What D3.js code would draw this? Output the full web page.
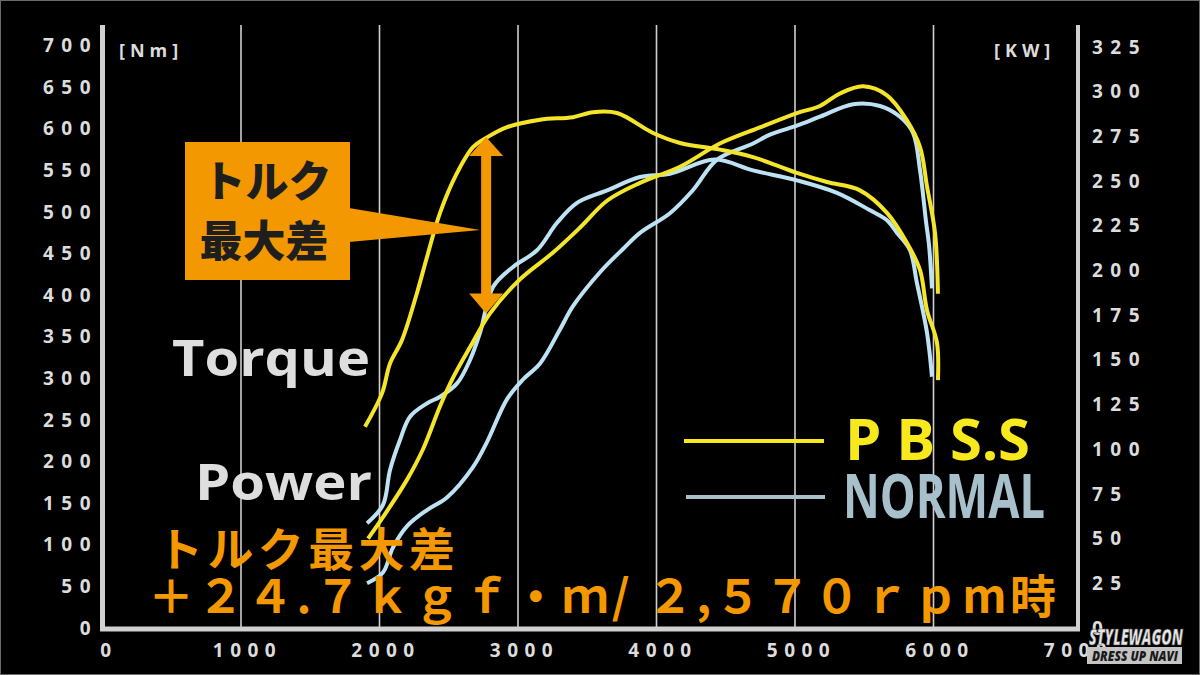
<!DOCTYPE html>
<html><head><meta charset="utf-8">
<script src="https://cdn.jsdelivr.net/npm/d3@7"></script>
<style>
html,body{margin:0;padding:0;background:#000;}
svg{display:block;}
</style></head>
<body>
<script>
// ---- data ----
const rpmTicks = [0,1000,2000,3000,4000,5000,6000,7000];
const nmTicks = [0,50,100,150,200,250,300,350,400,450,500,550,600,650,700];
const kwTicks = [0,25,50,75,100,125,150,175,200,225,250,275,300,325];
const gridRpm = [1000,2000,3000,4000,5000,6000];

// [rpm, Nm]
const pbssTorque = [[1895,242],[2018,282],[2076,318],[2162,346],[2271,403],[2343,446],[2437,499],[2560,547],[2675,578],[2769,589],[2921,602],[3159,611],[3397,614],[3542,620],[3715,619],[3975,595],[4170,583],[4458,575],[4697,566],[5014,547],[5231,536],[5469,526],[5664,499],[5808,463],[5903,430],[5953,382],[6025,343],[6032,298]];
const normalTorque = [[1910,126],[2025,148],[2076,190],[2148,226],[2220,254],[2343,270],[2437,278],[2560,294],[2653,322],[2726,355],[2820,410],[2964,434],[3137,454],[3282,487],[3426,511],[3643,526],[3881,542],[4097,546],[4420,563],[4697,550],[5014,538],[5303,523],[5542,502],[5664,490],[5736,475],[5830,454],[5880,415],[5953,355],[5989,302]];
// [rpm, kW]
const pbssPower = [[1917,50],[2025,62],[2199,83],[2314,100],[2437,124],[2531,140],[2653,157],[2798,176],[3014,195],[3253,210],[3448,224],[3643,239],[3881,249],[4170,258],[4458,271],[4747,280],[5014,288],[5180,292],[5325,299],[5491,303],[5664,298],[5808,284],[5903,269],[5953,247],[6011,221],[6032,187]];
const normalPower = [[1910,25],[2025,31],[2097,45],[2199,57],[2343,66],[2487,73],[2675,90],[2776,104],[2921,128],[3036,139],[3159,148],[3303,167],[3397,180],[3592,199],[3758,212],[3881,221],[4097,232],[4264,245],[4437,262],[4697,271],[4819,276],[5014,281],[5180,286],[5419,293],[5614,292],[5758,286],[5852,277],[5903,256],[5945,228],[5968,214],[5989,190]];

const annRpm = 2770, annTop = 590, annBottom = 378;

// ---- layout ----
const W = 1200, H = 675;
const svg = d3.select("body").append("svg").attr("width", W).attr("height", H);
svg.append("rect").attr("width", W).attr("height", H).attr("fill", "#000");
svg.append("rect").attr("x",0.5).attr("y",0.5).attr("width",W-1).attr("height",H-1)
  .attr("fill","none").attr("stroke","#6a6a6a").attr("stroke-width",1);

const x = d3.scaleLinear().domain([0,7000]).range([102.5, 1072]);
const yL = d3.scaleLinear().domain([0,700]).range([628, 45.6]);
const yR = d3.scaleLinear().domain([0,325]).range([628, 47]);
const axisColor = "#d0d0d0";
const labelColor = "#dcdcdc";
const topY = 25;

// gridlines
svg.append("g").selectAll("line").data(gridRpm).join("line")
  .attr("x1", d => x(d)).attr("x2", d => x(d))
  .attr("y1", topY).attr("y2", 628)
  .attr("stroke", "#cfcfcf").attr("stroke-width", 1.6);

// axis lines
svg.append("line").attr("x1", x(0)).attr("x2", x(0)).attr("y1", topY).attr("y2", 631)
  .attr("stroke", axisColor).attr("stroke-width", 5);
svg.append("line").attr("x1", 1078).attr("x2", 1078).attr("y1", topY).attr("y2", 631)
  .attr("stroke", axisColor).attr("stroke-width", 4);
svg.append("line").attr("x1", x(0)-2.5).attr("x2", 1080).attr("y1", 629).attr("y2", 629)
  .attr("stroke", axisColor).attr("stroke-width", 5);

function styleAxis(g){
  g.select(".domain").remove();
  g.selectAll(".tick line").remove();
  g.selectAll("text").attr("fill", labelColor)
    .style("font-family", "'Open Sans', sans-serif").style("font-weight", 700)
    .style("font-size", "19px").style("letter-spacing", "7.5px");
}
svg.append("g").attr("transform", `translate(${x(0)},0)`)
  .call(d3.axisLeft(yL).tickValues(nmTicks).tickSize(0).tickPadding(4.5).tickFormat(d3.format("d")))
  .call(styleAxis);
svg.append("g").attr("transform", `translate(1078,0)`)
  .call(d3.axisRight(yR).tickValues(kwTicks).tickSize(0).tickPadding(14).tickFormat(d3.format("d")))
  .call(styleAxis);
const xg = svg.append("g").attr("transform", `translate(0,628)`)
  .call(d3.axisBottom(x).tickValues(rpmTicks).tickSize(0).tickFormat(d3.format("d")))
  .call(styleAxis);
xg.selectAll("text").style("letter-spacing","6.5px").attr("y", 29).attr("dy", null).attr("dx", 6);

// units
svg.append("text").attr("x", 119).attr("y", 57).text("[Nm]")
  .attr("fill", labelColor).style("font-family","'Open Sans', sans-serif").style("font-weight",700)
  .style("font-size","18px").style("letter-spacing","5px");
svg.append("text").attr("x", 994).attr("y", 57).text("[KW]")
  .attr("fill", labelColor).style("font-family","'Open Sans', sans-serif").style("font-weight",700)
  .style("font-size","18px").style("letter-spacing","5px");

// curves
const yellow = "#f4e52a", blue = "#bde2f4";
const lineT = d3.line().x(d => x(d[0])).y(d => yL(d[1])).curve(d3.curveCatmullRom.alpha(0.5));
const lineP = d3.line().x(d => x(d[0])).y(d => yR(d[1])).curve(d3.curveCatmullRom.alpha(0.5));
const curves = svg.append("g").attr("fill","none").attr("stroke-width",4).attr("stroke-linecap","butt").attr("stroke-linejoin","round");
curves.append("path").attr("d", lineP(normalPower)).attr("stroke", blue);
curves.append("path").attr("d", lineT(normalTorque)).attr("stroke", blue);
curves.append("path").attr("d", lineP(pbssPower)).attr("stroke", yellow);
curves.append("path").attr("d", lineT(pbssTorque)).attr("stroke", yellow);

// Torque / Power labels
svg.append("text").attr("x", 172).attr("y", 376).text("Torque")
  .attr("fill","#dedede").attr("textLength",198).attr("lengthAdjust","spacingAndGlyphs")
  .style("font-family","'Open Sans', sans-serif").style("font-weight",700).style("font-size","50px");
svg.append("text").attr("x", 195).attr("y", 500).text("Power")
  .attr("fill","#dedede").attr("textLength",177).attr("lengthAdjust","spacingAndGlyphs")
  .style("font-family","'Open Sans', sans-serif").style("font-weight",700).style("font-size","50px");

// legend
svg.append("line").attr("x1",684).attr("x2",824).attr("y1",441).attr("y2",441).attr("stroke","#f8e81e").attr("stroke-width",4);
svg.append("line").attr("x1",686).attr("x2",825).attr("y1",497).attr("y2",497).attr("stroke","#a7c0cc").attr("stroke-width",4);
svg.append("text").attr("x",845).attr("y",460).text("P B S.S")
  .attr("fill","#f8e81e").attr("textLength",185).attr("lengthAdjust","spacing")
  .style("font-family","'Open Sans', sans-serif").style("font-weight",700).style("font-size","58px");
svg.append("text").attr("x",843).attr("y",518).text("NORMAL")
  .attr("fill","#a7c0cc").attr("textLength",202).attr("lengthAdjust","spacingAndGlyphs")
  .style("font-family","'Open Sans', sans-serif").style("font-weight",700).style("font-size","60px");

// annotation: callout box
const orange = "#f39800";
const ax = x(annRpm);
svg.append("rect").attr("x",185).attr("y",142).attr("width",165).attr("height",138).attr("fill",orange);
svg.append("path").attr("d", `M349,208 L${ax-6},230 L349,242 Z`).attr("fill",orange);
svg.append("text").attr("x",267).attr("y",197).attr("text-anchor","middle").text("トルク")
  .attr("fill","#1e1e1e").style("font-family","'Noto Sans CJK JP', sans-serif").style("font-weight",900).style("font-size","43px");
svg.append("text").attr("x",264).attr("y",257).attr("text-anchor","middle").text("最大差")
  .attr("fill","#1e1e1e").style("font-family","'Noto Sans CJK JP', sans-serif").style("font-weight",900).style("font-size","43px");

// double arrow
const yt = yL(annTop), yb = yL(annBottom);
svg.append("rect").attr("x", ax-5).attr("y", yt+15).attr("width",10).attr("height", yb-yt-30).attr("fill",orange);
svg.append("path").attr("d", `M${ax},${yt} L${ax+17},${yt+19} L${ax-17},${yt+19} Z`).attr("fill",orange);
svg.append("path").attr("d", `M${ax},${yb} L${ax+17},${yb-20} L${ax-17},${yb-20} Z`).attr("fill",orange);

// bottom caption
svg.append("text").attr("x",157).attr("y",566).text("トルク最大差")
  .attr("fill",orange).attr("textLength",298).attr("lengthAdjust","spacing")
  .style("font-family","'Noto Sans CJK JP', sans-serif").style("font-weight",700).style("font-size","46px");
svg.append("text").attr("x",148).attr("y",613).text("＋２４.７ｋｇｆ・ｍ/ ２,５７０ｒｐm時")
  .attr("fill",orange).attr("textLength",908).attr("lengthAdjust","spacing")
  .style("font-family","'Noto Sans CJK JP', sans-serif").style("font-weight",700).style("font-size","46px");

// logo
const logo = svg.append("g");
logo.append("text").attr("x",1089).attr("y",645).text("STYLEWAGON")
  .attr("fill","#e6e6e6").attr("stroke","#444").attr("stroke-width",0.6)
  .attr("textLength",94).attr("lengthAdjust","spacingAndGlyphs")
  .style("font-family","'Open Sans', sans-serif").style("font-weight",800).style("font-style","italic").style("font-size","23px");
logo.append("rect").attr("x",1087).attr("y",647).attr("width",95).attr("height",17).attr("fill","#c4c4c4");
logo.append("text").attr("x",1092).attr("y",661).text("DRESS UP NAVI")
  .attr("fill","#1a1a1a").attr("textLength",86).attr("lengthAdjust","spacingAndGlyphs")
  .style("font-family","'Open Sans', sans-serif").style("font-weight",800).style("font-style","italic").style("font-size","14px");
</script>
</body></html>
